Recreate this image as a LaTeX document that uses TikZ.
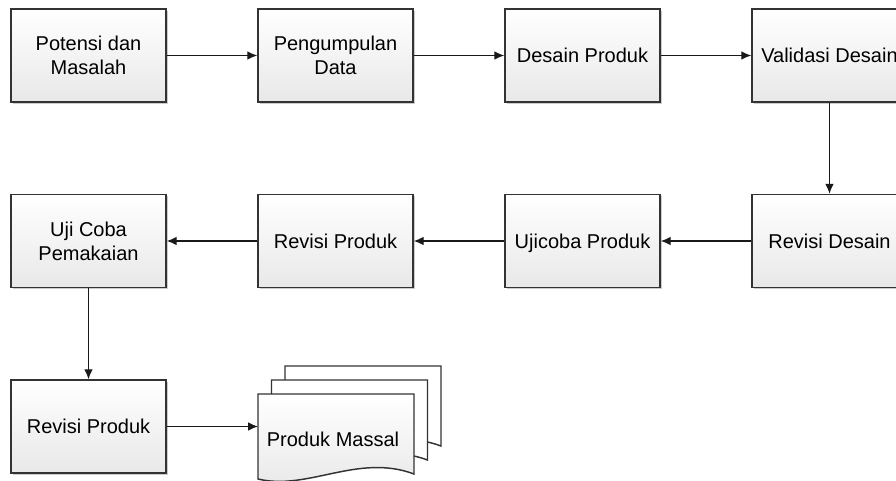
\documentclass[tikz,border=0pt]{standalone}
\usepackage{fontspec}
\setmainfont{Liberation Sans}
\usetikzlibrary{arrows.meta,shadows}
\begin{document}
\begin{tikzpicture}[x=0.75pt,y=-0.75pt,
  box/.style={draw=black!80, line width=1.1pt, top color=white, bottom color=black!9,
    minimum width=116.25pt, minimum height=69.75pt, inner sep=0pt, align=center,
    font=\fontsize{15pt}{18pt}\selectfont,
    drop shadow={shadow xshift=1.4pt, shadow yshift=-1.4pt, opacity=0.2, fill=black}},
  sheet/.style={draw=black!80, line width=1.1pt, fill=white},
  frontsheet/.style={draw=black!80, line width=1.1pt, top color=white, bottom color=black!9},
  conn/.style={draw=black!90, line width=0.9pt, -{Latex[length=7.5pt,width=6.5pt]}},
  lbl/.style={font=\fontsize{15pt}{18pt}\selectfont, inner sep=0pt}]
\useasboundingbox (0,0) rectangle (896,481);

% row 1
\node[box] (b1) at (88.5,55.5) {Potensi dan\\Masalah};
\node[box] (b2) at (335.5,55.5) {Pengumpulan\\Data};
\node[box] (b3) at (582.5,55.5) {Desain Produk};
\node[box] (b4) at (829.5,55.5) {Validasi Desain};
% row 2
\node[box] (b5) at (88.5,241) {Uji Coba\\Pemakaian};
\node[box] (b6) at (335.5,241) {Revisi Produk};
\node[box, text depth=0pt] (b7) at (582.5,241) {Ujicoba Produk};
\node[box] (b8) at (829.5,241) {Revisi Desain};
% row 3
\node[box] (b9) at (88.5,426.5) {Revisi Produk};

% document stack
\newcommand{\docsheet}[3]{%
  \path[#3] (#1,#2) -- ++(156,0) -- ++(0,80)
    .. controls ++(-56,-21) and ++(50,12) .. ++(-156,5) -- cycle;}
\docsheet{285}{366}{sheet}
\docsheet{271.5}{380}{sheet}
\docsheet{258}{394}{frontsheet}
\coordinate (docw) at (258,426.5);
\node[lbl, anchor=base] (doc) at (333,446) {Produk Massal};

% connectors
\draw[conn] (b1) -- (b2);
\draw[conn] (b2) -- (b3);
\draw[conn] (b3) -- (b4);
\draw[conn] (b4) -- (b8);
\draw[conn] (b8) -- (b7);
\draw[conn] (b7) -- (b6);
\draw[conn] (b6) -- (b5);
\draw[conn] (b5) -- (b9);
\draw[conn] (b9.east) -- (docw);
\end{tikzpicture}
\end{document}
